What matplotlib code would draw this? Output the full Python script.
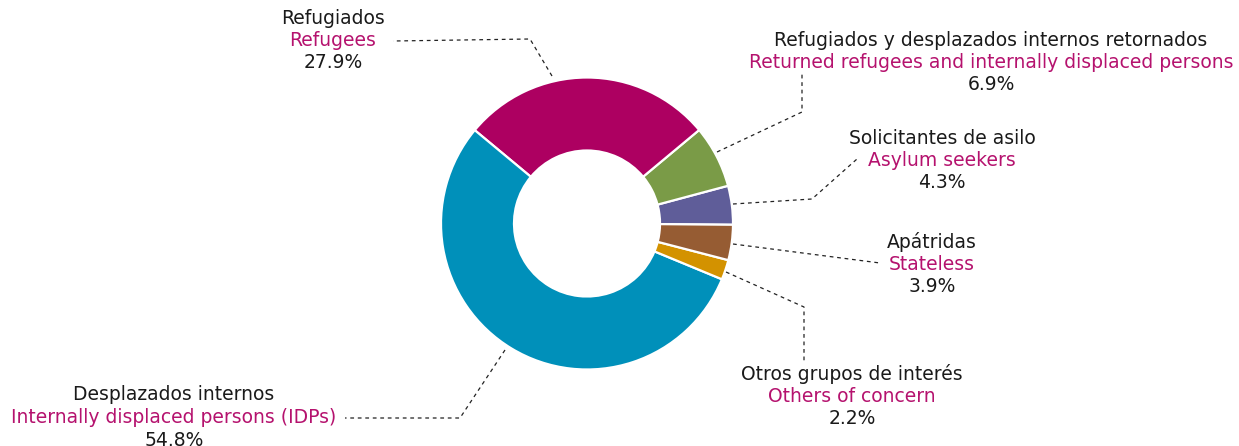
import matplotlib
matplotlib.use('Agg')
import matplotlib.pyplot as plt

# --- Data setup ---
labels_es = ['Solicitantes de asilo', 'Refugiados y desplazados internos retornados', 'Refugiados',
             'Desplazados internos', 'Otros grupos de interés', 'Apátridas']
labels_en = ['Asylum seekers', 'Returned refugees and internally displaced persons', 'Refugees',
             'Internally displaced persons (IDPs)', 'Others of concern', 'Stateless']
shares = [4.3, 6.9, 27.9, 54.8, 2.2, 3.9]
colors = ['#5F5D99', '#7A9B47', '#AD0061', '#0090BA', '#D39200', '#965C33']

W, H = 1239, 446
MAGENTA = '#B5126E'
FS = 13.5

fig = plt.figure(figsize=(W / 100, H / 100), dpi=100)
ax = fig.add_axes([0, 0, 1, 1])

def py(y):
    # pixel row -> data y
    return H - y

ax.pie(shares, colors=colors, startangle=-0.5, counterclock=True,
       center=(587, py(223.5)), radius=146,
       wedgeprops=dict(width=73, edgecolor='white', linewidth=1.6))
ax.set_xlim(0, W)
ax.set_ylim(0, H)
ax.set_aspect('auto')
ax.axis('off')

# label blocks: (index, x center, y of first line)
blocks = [(0, 942, 138), (1, 991, 40), (2, 333, 18), (3, 174, 395), (4, 852, 374), (5, 932, 242)]
for i, x, y in blocks:
    ax.text(x, py(y), labels_es[i], ha='center', va='center', fontsize=FS, color='#1a1a1a')
    ax.text(x, py(y + 22.5), labels_en[i], ha='center', va='center', fontsize=FS, color=MAGENTA)
    ax.text(x, py(y + 45), f'{shares[i]:.1f}%', ha='center', va='center', fontsize=FS, color='#1a1a1a')

# dashed leader lines (pixel coords)
leaders = [
    [(733, 204), (812, 199), (857, 159)],
    [(717, 152), (802, 112), (802, 72)],
    [(552, 76), (530, 39), (393, 41)],
    [(505, 350), (460, 418), (345, 418)],
    [(726, 272), (804, 307), (804, 362)],
    [(733, 244), (880, 263)],
]
for pts in leaders:
    xs = [p[0] for p in pts]
    ys = [py(p[1]) for p in pts]
    ax.plot(xs, ys, color='#222222', linewidth=0.9, linestyle=(0, (3, 3)))

fig.savefig('out.png', dpi=100)
